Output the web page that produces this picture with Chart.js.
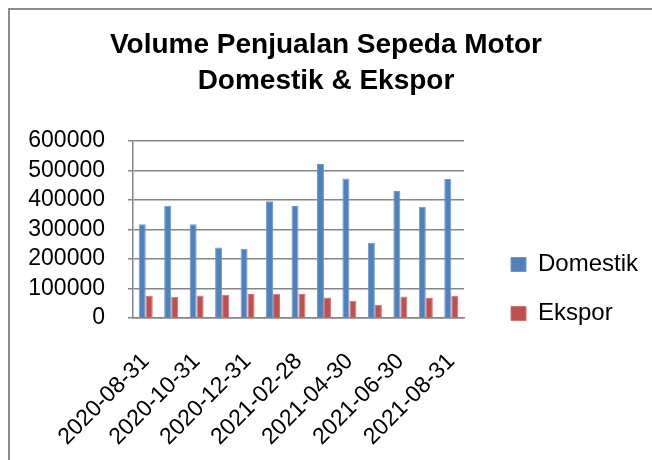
<!DOCTYPE html>
<html>
<head>
<meta charset="utf-8">
<script src="https://cdn.jsdelivr.net/npm/chart.js@4.4.0/dist/chart.umd.min.js"></script>
<style>
  html, body { margin: 0; padding: 0; background: #fff; }
  body { width: 652px; height: 460px; position: relative; overflow: hidden; }
  #frame { position: absolute; left: 8px; top: 8px; width: 680px; height: 500px; border: 2px solid #8c8c8c; box-sizing: border-box; }
  #wrap { position: absolute; left: 0; top: 0; width: 652px; height: 460px; }
</style>
</head>
<body>
<div id="frame"></div>
<div id="wrap"><canvas id="chart"></canvas></div>
<script>
'use strict';

// ---- Data ----

const months = [
  '2020-08-31', '2020-09-30', '2020-10-31', '2020-11-30', '2020-12-31',
  '2021-01-31', '2021-02-28', '2021-03-31', '2021-04-30', '2021-05-31',
  '2021-06-30', '2021-07-31', '2021-08-31',
];
const domestik = [317400, 380400, 317400, 238600, 234100, 395100, 379300, 521100, 472700, 254400, 430000, 377100, 470500];
const ekspor   = [75400, 72000, 76500, 78800, 81000, 82200, 81000, 69800, 58500, 45000, 73200, 67500, 75400];
const yTicks   = [0, 100000, 200000, 300000, 400000, 500000, 600000];

// ---- Chart ----

const FONT = '"Liberation Sans", Arial, sans-serif';
const gridColor = '#868686';

// legend sits lower and further right than Chart.js puts it
const legendPlace = {
  id: 'legendPlace',
  beforeUpdate(chart) {
    const legend = chart.legend;
    if (legend && !legend._patched) {
      const fit = legend.fit.bind(legend);
      legend.fit = function () { fit(); this.width = 188; };
      legend._patched = true;
    }
  },
  afterLayout(chart) {
    const legend = chart.legend;
    legend.left += 22; legend.right += 22;
    legend.top += 59; legend.bottom += 59;
  },
};

new Chart(document.getElementById('chart'), {
  type: 'bar',
  data: {
    labels: months,
    datasets: [
      { label: 'Domestik', data: domestik, backgroundColor: '#4f81bd', borderColor: '#6f97cc' },
      { label: 'Ekspor',   data: ekspor,   backgroundColor: '#c0504d', borderColor: '#d17472' },
    ],
  },
  plugins: [legendPlace],
  options: {
    responsive: true,
    maintainAspectRatio: false,
    animation: false,
    layout: { padding: 0 },
    datasets: { bar: { categoryPercentage: 0.55, barPercentage: 1, borderWidth: 1, borderSkipped: 'bottom' } },
    plugins: {
      title: {
        display: true,
        text: ['Volume Penjualan Sepeda Motor', 'Domestik & Ekspor'],
        color: '#000',
        font: { family: FONT, size: 28, weight: 'bold', lineHeight: 1.3 },
        padding: { top: 27, bottom: 41 },
      },
      legend: {
        position: 'right',
        labels: {
          color: '#000',
          font: { family: FONT, size: 24 },
          boxWidth: 15,
          boxHeight: 14,
          padding: 25,
        },
      },
      tooltip: { enabled: false },
    },
    scales: {
      x: {
        afterFit: axis => { axis.height = 142; },
        grid: { display: false },
        border: { display: true, color: gridColor, width: 1.5 },
        ticks: {
          color: '#000',
          font: { family: FONT, size: 23 },
          autoSkip: false,
          minRotation: 45,
          maxRotation: 45,
          padding: 22,
          callback: (v, i) => (i % 2 === 0 ? months[i] : ''),
        },
      },
      y: {
        min: 0,
        max: 600000,
        afterBuildTicks: axis => { axis.ticks = yTicks.map(v => ({ value: v })); },
        afterFit: axis => { axis.width = 133; },
        grid: { color: gridColor, lineWidth: 1.5, tickLength: 5 },
        border: { display: true, color: gridColor, width: 1.5 },
        ticks: {
          color: '#000',
          font: { family: FONT, size: 23 },
          autoSkip: false,
          padding: 23,
          callback: v => String(v),
        },
      },
    },
  },
});
</script>
</body>
</html>
